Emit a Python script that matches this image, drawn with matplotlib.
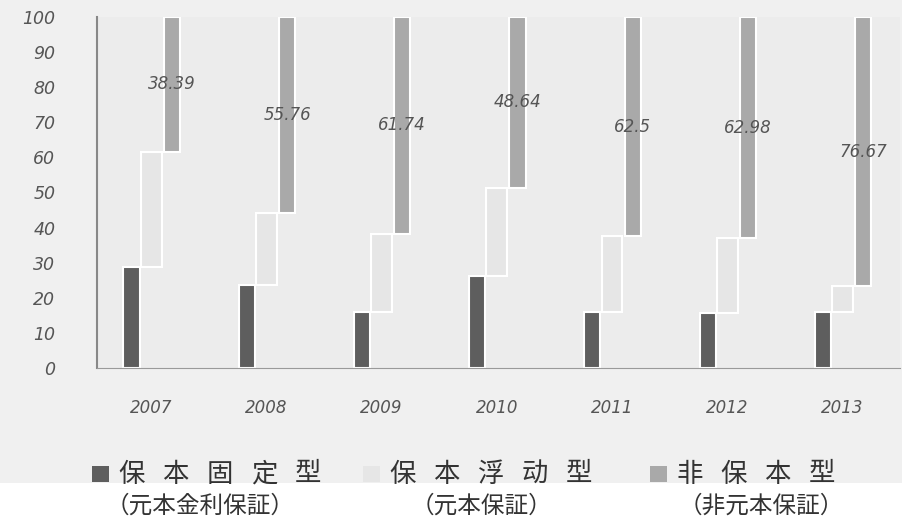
import numpy as np
import matplotlib
matplotlib.use('Agg')
import matplotlib.pyplot as plt
from matplotlib.patches import Rectangle

# 데이터
years = ['2007', '2008', '2009', '2010', '2011', '2012', '2013']
fixed = [28.8, 23.6, 16.0, 26.2, 16.0, 15.6, 16.0]          # 保本固定型
non_guaranteed = [38.39, 55.76, 61.74, 48.64, 62.5, 62.98, 76.67]  # 非保本型
floating = [round(100 - a - b, 2) for a, b in zip(fixed, non_guaranteed)]  # 保本浮动型

legend_main = ['保本固定型', '保本浮动型', '非保本型']
legend_sub = ['（元本金利保証）', '（元本保証）', '（非元本保証）']

c_fixed = '#5e5e5e'
c_float = '#e6e6e6'
c_non = '#a9a9a9'
txt_gray = '#555555'

fig = plt.figure(figsize=(9.03, 5.24), dpi=100, facecolor='#f0f0f0')
ax = fig.add_axes([0.1074, 0.2977, 0.8893, 0.6699])
ax.set_facecolor('#ececec')

x = np.arange(len(years))
w = 0.14
ax.bar(x - 0.17, fixed, width=w, color=c_fixed, edgecolor='white', linewidth=1.5)
ax.bar(x, floating, width=w + 0.04, bottom=fixed, color=c_float, edgecolor='white', linewidth=1.5)
bottom_non = [a + b for a, b in zip(fixed, floating)]
bars = ax.bar(x + 0.18, non_guaranteed, width=w, bottom=bottom_non, color=c_non,
              edgecolor='white', linewidth=1.5)

for rect, v in zip(bars, non_guaranteed):
    ax.text(rect.get_x() + rect.get_width() / 2, rect.get_y() + rect.get_height() / 2,
            f'{v:g}', ha='center', va='center', fontsize=12, style='italic', color=txt_gray)

ax.set_xlim(-0.47, 6.5)
ax.set_ylim(0, 100)
ax.set_yticks(range(0, 101, 10))
ax.set_yticklabels([str(v) for v in range(0, 101, 10)], fontsize=12.5, style='italic', color=txt_gray)
ax.set_xticks(x)
ax.set_xticklabels(years, fontsize=12, style='italic', color=txt_gray)
ax.tick_params(axis='y', length=0, pad=30)
ax.tick_params(axis='x', length=0, pad=22)
for s in ['top', 'right']:
    ax.spines[s].set_visible(False)
ax.spines['left'].set_color('#888888')
ax.spines['bottom'].set_color('#999999')
ax.spines['left'].set_linewidth(1.5)

# 범례 영역 (아래쪽 흰색)
fig.patches.append(Rectangle((0, 0), 1, 41 / 524, transform=fig.transFigure,
                             facecolor='white', edgecolor='none', zorder=0))

W, H = 903, 524
markers = [(92, c_fixed), (363, '#e6e6e6'), (650, c_non)]
row1_y = 474
for (mx, mc), label in zip(markers, legend_main):
    fig.patches.append(Rectangle((mx / W, (H - row1_y - 8) / H), 17 / W, 16 / H,
                                 transform=fig.transFigure, facecolor=mc, edgecolor='none'))
    for i, ch in enumerate(label):
        fig.text((mx + 40 + 44 * i) / W, (H - row1_y) / H, ch, ha='center', va='center',
                 fontsize=19, color='#333333', family=['Noto Sans CJK SC', 'DejaVu Sans'])

sub_x = [200, 481, 761]
for sx, label in zip(sub_x, legend_sub):
    fig.text(sx / W, (H - 506) / H, label, ha='center', va='center', fontsize=17,
             color='#333333', family=['Noto Sans CJK JP', 'DejaVu Sans'])

fig.savefig('out.png', dpi=100, facecolor=fig.get_facecolor())
